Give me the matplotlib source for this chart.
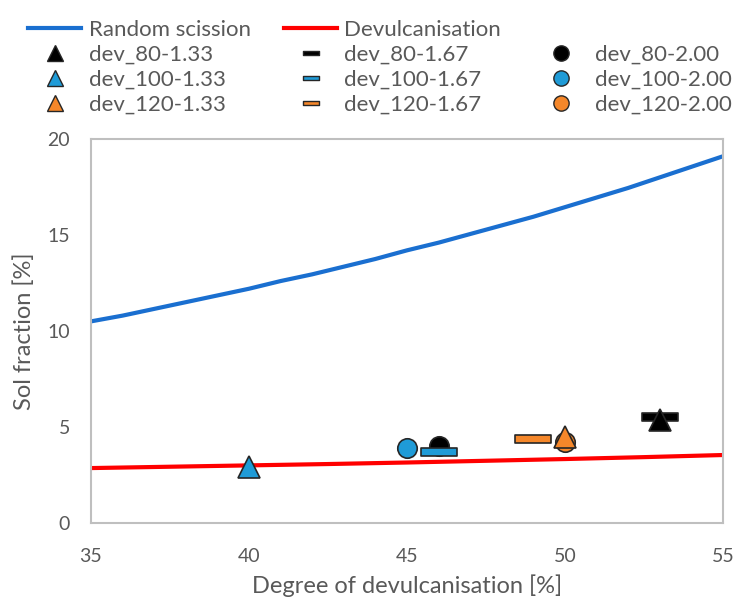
import numpy as np
import matplotlib
matplotlib.use("Agg")
import matplotlib.pyplot as plt
from matplotlib.path import Path
from matplotlib.lines import Line2D

plt.rcParams['font.family'] = ['Lato', 'DejaVu Sans']

# model curves
deg = list(range(35, 56))
random_scission = [10.5, 10.8, 11.15, 11.5, 11.85, 12.2, 12.6, 12.95, 13.35, 13.75, 14.2,
                   14.6, 15.05, 15.5, 15.95, 16.45, 16.95, 17.45, 18.0, 18.55, 19.1]
deg_red = [35, 37.5, 40, 42.5, 45, 47.5, 50, 52.5, 55]
devulcanisation = [2.86, 2.93, 3.0, 3.07, 3.15, 3.24, 3.33, 3.43, 3.54]

# experimental points
labels = ['dev_80-1.33', 'dev_100-1.33', 'dev_120-1.33',
          'dev_80-1.67', 'dev_100-1.67', 'dev_120-1.67',
          'dev_80-2.00', 'dev_100-2.00', 'dev_120-2.00']
x_pts = [53, 40, 50, 53, 46, 49, 46, 45, 50]
y_pts = [5.35, 2.9, 4.5, 5.5, 3.7, 4.4, 4.0, 3.9, 4.2]
shapes = ['tri', 'tri', 'tri', 'bar', 'bar', 'bar', 'dot', 'dot', 'dot']
colors = ['black', '#1f9bd7', '#f5872a'] * 3

bar = Path([(-1, -0.22), (1, -0.22), (1, 0.22), (-1, 0.22), (-1, -0.22)],
           [Path.MOVETO, Path.LINETO, Path.LINETO, Path.LINETO, Path.CLOSEPOLY])
thin = Path([(-1, -0.3), (1, -0.3), (1, 0.3), (-1, 0.3), (-1, -0.3)],
            [Path.MOVETO, Path.LINETO, Path.LINETO, Path.LINETO, Path.CLOSEPOLY])
mk = {'tri': ('^', 16), 'bar': (bar, 26), 'dot': ('o', 14)}
mk_leg = {'tri': ('^', 11), 'bar': (thin, 11), 'dot': ('o', 11)}

fig = plt.figure(figsize=(7.38, 5.99), dpi=100)
ax = fig.add_axes([0.1233, 0.1269, 0.8564, 0.6411])

l1, = ax.plot(deg, random_scission, color='#1a6fd0', lw=3)
l2, = ax.plot(deg_red, devulcanisation, color='#ff0000', lw=3)

order = [6, 7, 8, 3, 4, 5, 0, 1, 2]  # circles first, triangles on top
for i in order:
    m, s = mk[shapes[i]]
    ax.plot(x_pts[i], y_pts[i], ls='none', marker=m, ms=s,
            mfc=colors[i], mec='#262626', mew=1.2)

# legend proxies
proxy = []
for i in range(9):
    m, s = mk_leg[shapes[i]]
    proxy.append(Line2D([], [], ls='none', marker=m, ms=s, mfc=colors[i],
                        mec='#262626', mew=1.0))

ax.set_xlim(35, 55)
ax.set_ylim(0, 20)
ax.set_xticks([35, 40, 45, 50, 55])
ax.set_yticks([0, 5, 10, 15, 20])
ax.tick_params(length=0, labelsize=14, labelcolor='#595959')
ax.tick_params(axis='x', pad=18)
ax.tick_params(axis='y', pad=15)
for sp in ax.spines.values():
    sp.set_color('#bfbfbf')
    sp.set_linewidth(1.5)
ax.set_xlabel('Degree of devulcanisation [%]', fontsize=17, color='#595959')
ax.set_ylabel('Sol fraction [%]', fontsize=17, color='#595959')
ax.xaxis.set_label_coords(0.5, -0.135)
ax.yaxis.set_label_coords(-0.088, 0.5)

blank = Line2D([], [], ls='none', marker='none')
hl = [l1, proxy[0], proxy[1], proxy[2],
      l2, proxy[3], proxy[4], proxy[5],
      blank, proxy[6], proxy[7], proxy[8]]
ll = ['Random scission', labels[0], labels[1], labels[2],
      'Devulcanisation', labels[3], labels[4], labels[5],
      '', labels[6], labels[7], labels[8]]
fig.legend(hl, ll, loc='upper left', bbox_to_anchor=(0.023, 0.985), ncol=3,
           frameon=False, fontsize=16, handlelength=2.4, borderpad=0,
           handletextpad=0.32, columnspacing=1.5, labelspacing=0.22,
           labelcolor='#595959')

fig.savefig('out.png', dpi=100)
